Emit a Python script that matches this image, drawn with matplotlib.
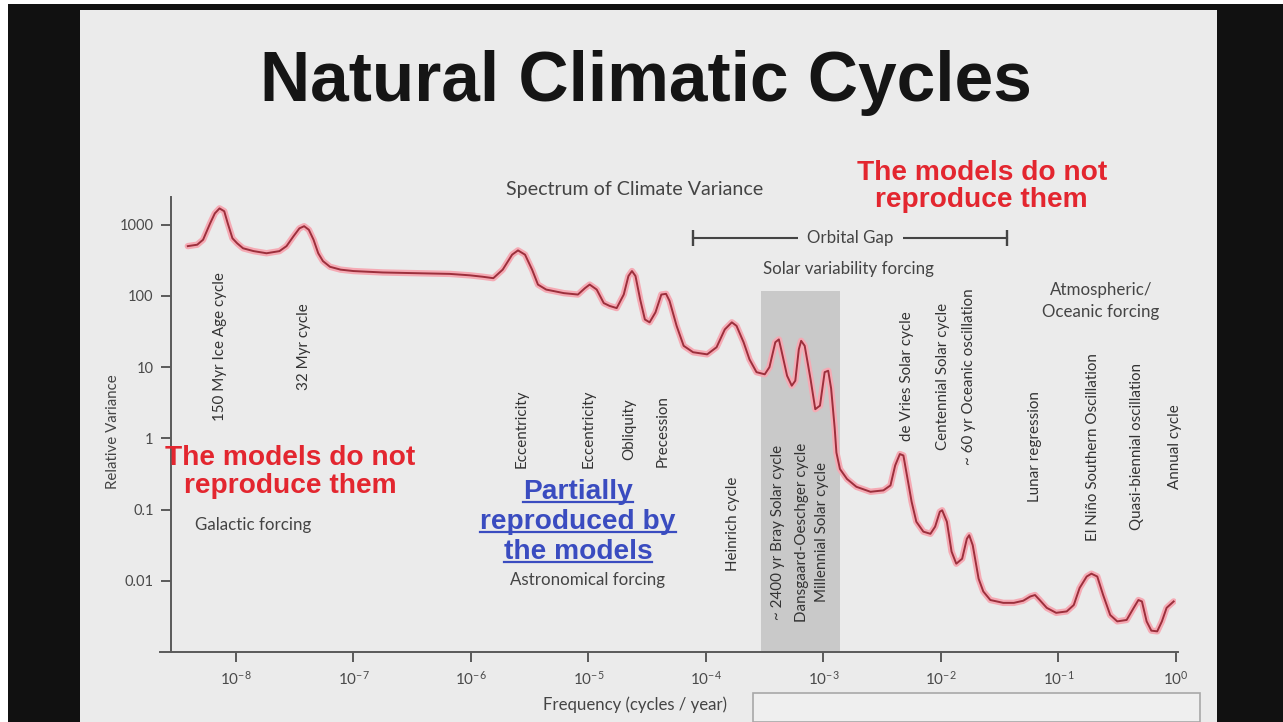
import numpy as np
import matplotlib
matplotlib.use("Agg")
import matplotlib.pyplot as plt
from matplotlib.patches import Rectangle
from matplotlib.lines import Line2D
from matplotlib.ticker import NullLocator

plt.rcParams['mathtext.fontset'] = 'custom'
plt.rcParams['mathtext.rm'] = 'Lato'
plt.rcParams['mathtext.it'] = 'Lato:italic'
plt.rcParams['mathtext.bf'] = 'Lato:bold'

# ---------------- data ----------------
# spectrum: log10 frequency (cycles/year) and log10 relative variance
log_freq = np.array([
    -8.41, -8.33, -8.28, -8.22, -8.18, -8.14, -8.10, -8.07, -8.03, -7.99,
    -7.94, -7.85, -7.74, -7.63, -7.57, -7.51, -7.46, -7.42, -7.38, -7.34,
    -7.30, -7.26, -7.20, -7.11, -7.00, -6.75, -6.46, -6.18, -6.01, -5.90,
    -5.81, -5.73, -5.65, -5.60, -5.54, -5.48, -5.43, -5.36, -5.21, -5.09,
    -5.03, -4.99, -4.93, -4.87, -4.82, -4.76, -4.70, -4.66, -4.63, -4.60,
    -4.56, -4.52, -4.48, -4.43, -4.38, -4.34, -4.31, -4.25, -4.19, -4.11,
    -3.99, -3.91, -3.84, -3.78, -3.74, -3.68, -3.63, -3.57, -3.50, -3.46,
    -3.41, -3.38, -3.36, -3.31, -3.27, -3.24, -3.21, -3.19, -3.16, -3.11,
    -3.07, -3.03, -2.99, -2.96, -2.935, -2.905, -2.89, -2.86, -2.80, -2.72,
    -2.60, -2.49, -2.43, -2.39, -2.35, -2.32, -2.29, -2.25, -2.21, -2.15,
    -2.09, -2.05, -2.01, -1.99, -1.95, -1.91, -1.87, -1.82, -1.78, -1.76,
    -1.73, -1.68, -1.64, -1.58, -1.47, -1.38, -1.30, -1.24, -1.20, -1.16,
    -1.10, -1.02, -0.93, -0.87, -0.82, -0.76, -0.72, -0.67, -0.62, -0.56,
    -0.50, -0.42, -0.36, -0.32, -0.29, -0.25, -0.21, -0.16, -0.12, -0.08,
    -0.02])
log_var = np.array([
    2.70, 2.72, 2.79, 3.02, 3.16, 3.23, 3.19, 3.02, 2.81, 2.74,
    2.67, 2.63, 2.60, 2.63, 2.70, 2.84, 2.95, 2.98, 2.93, 2.79,
    2.60, 2.49, 2.41, 2.37, 2.35, 2.33, 2.32, 2.31, 2.29, 2.27,
    2.25, 2.37, 2.58, 2.64, 2.58, 2.37, 2.16, 2.09, 2.04, 2.02,
    2.11, 2.16, 2.09, 1.90, 1.86, 1.83, 2.02, 2.28, 2.35, 2.28,
    1.95, 1.67, 1.63, 1.77, 2.02, 2.03, 1.93, 1.58, 1.30, 1.21,
    1.18, 1.28, 1.53, 1.63, 1.58, 1.35, 1.11, 0.93, 0.90, 1.00,
    1.35, 1.39, 1.25, 0.88, 0.74, 0.81, 1.25, 1.37, 1.30, 0.83,
    0.41, 0.46, 0.93, 0.95, 0.70, 0.15, -0.20, -0.43, -0.57, -0.68,
    -0.75, -0.73, -0.66, -0.38, -0.22, -0.24, -0.52, -0.89, -1.17, -1.31,
    -1.34, -1.24, -1.03, -1.01, -1.17, -1.59, -1.76, -1.69, -1.41, -1.36,
    -1.50, -1.97, -2.15, -2.27, -2.31, -2.31, -2.28, -2.22, -2.20, -2.27,
    -2.38, -2.45, -2.43, -2.34, -2.10, -1.94, -1.90, -1.94, -2.20, -2.48,
    -2.57, -2.55, -2.38, -2.27, -2.29, -2.57, -2.70, -2.71, -2.57, -2.38,
    -2.29])
freq = 10.0 ** log_freq
variance = 10.0 ** log_var

solar_band_freq = [2.94e-4, 1.37e-3]
solar_band_top = 117.0

orbital_gap_freq = [7.7e-5, 3.65e-2]
orbital_gap_level = 660.0
orbital_gap_text_freq = 1.7e-3

x_ticks = [1e-8, 1e-7, 1e-6, 1e-5, 1e-4, 1e-3, 1e-2, 1e-1, 1e0]
x_tick_labels = [r'$10^{-8}$', r'$10^{-7}$', r'$10^{-6}$', r'$10^{-5}$', r'$10^{-4}$',
                 r'$10^{-3}$', r'$10^{-2}$', r'$10^{-1}$', r'$10^{0}$']
y_ticks = [0.01, 0.1, 1, 10, 100, 1000]
y_tick_labels = ['0.01', '0.1', '1', '10', '100', '1000']

# cycle labels: text, frequency, vertical centre (variance units)
cycle_labels = ['150 Myr Ice Age cycle', '32 Myr cycle',
                'Eccentricity', 'Eccentricity', 'Obliquity', 'Precession',
                'Heinrich cycle',
                '~ 2400 yr Bray Solar cycle', 'Dansgaard-Oeschger cycle', 'Millennial Solar cycle',
                'de Vries Solar cycle', 'Centennial Solar cycle', '~ 60 yr Oceanic oscillation',
                'Lunar regression', 'El Niño Southern Oscillation', 'Quasi-biennial oscillation',
                'Annual cycle']
cycle_freq_log = [-8.14, -7.42, -5.57, -5.00, -4.65, -4.37, -3.77, -3.39, -3.18, -3.01,
                  -2.29, -1.98, -1.76, -1.20, -0.71, -0.33, -0.01]
cycle_ypos_log = [1.29, 1.29, 0.13, 0.13, 0.13, 0.10, -1.20, -1.32, -1.32, -1.32,
                  0.87, 0.87, 0.87, -0.12, -0.12, -0.12, -0.12]

forcing_labels = ['Galactic forcing', 'Astronomical forcing', 'Solar variability forcing',
                  'Atmospheric/\nOceanic forcing']
forcing_freq_log = [-7.85, -5.01, -2.79, -0.64]
forcing_ypos_log = [-1.22, -1.99, 2.38, 1.93]

# ---------------- figure ----------------
W, H = 1283, 722
fig = plt.figure(figsize=(W / 100, H / 100), dpi=100, facecolor='white')


def fx(x):
    return x / W


def fy(y):
    return 1 - y / H


# screen frame and slide
fig.add_artist(Rectangle((fx(8), 0), 1 - fx(8), fy(4), transform=fig.transFigure,
                         facecolor='#111111', edgecolor='none', zorder=-10))
fig.add_artist(Rectangle((fx(80), 0), (1217 - 80) / W, fy(10), transform=fig.transFigure,
                         facecolor='#ebebeb', edgecolor='none', zorder=-9))
fig.add_artist(Rectangle((fx(753), 0), (1200 - 753) / W, fy(693), transform=fig.transFigure,
                         facecolor='#efefef', edgecolor='#a8a8a8', lw=1.2, zorder=-8))

ax = fig.add_axes([fx(171), fy(652), (1176 - 171) / W, (652 - 197) / H])
ax.patch.set_alpha(0)
ax.set_xscale('log')
ax.set_yscale('log')
ax.set_xlim(10 ** -8.553, 1.0)
ax.set_ylim(1e-3, 10 ** 3.39)

axis_col = '#5a5a5a'
for s in ['top', 'right', 'bottom']:
    ax.spines[s].set_visible(False)
ax.spines['left'].set_color(axis_col)
ax.spines['left'].set_linewidth(1.4)
ax.add_line(Line2D([-11 / 1005, 1.002], [0, 0], transform=ax.transAxes, color=axis_col,
                   lw=1.4, clip_on=False))

ax.set_xticks(x_ticks)
ax.set_xticklabels(x_tick_labels)
ax.set_yticks(y_ticks)
ax.set_yticklabels(y_tick_labels)
ax.xaxis.set_minor_locator(NullLocator())
ax.yaxis.set_minor_locator(NullLocator())
ax.tick_params(direction='out', length=7.5, width=1.4, color=axis_col,
               labelcolor='#4a4a4a', pad=5)
for lab in ax.get_yticklabels():
    lab.set_family('Lato')
    lab.set_fontsize(10.5)
for lab in ax.get_xticklabels():
    lab.set_fontsize(11)

# solar band
ax.fill_between(solar_band_freq, 1e-3, solar_band_top, color='#c9c9c9', lw=0, zorder=0.5)

# spectrum curve
ax.plot(freq, variance, color='#f5aab4', lw=4.6, solid_joinstyle='round',
        solid_capstyle='round', zorder=3)
ax.plot(freq, variance, color='#9c2f3c', lw=1.4, solid_joinstyle='round', zorder=4)

# orbital gap
ax.plot(orbital_gap_freq, [orbital_gap_level] * 2, color='#444444', lw=1.5, clip_on=False)
ax.plot(orbital_gap_freq, [orbital_gap_level] * 2, ls='none', marker='|', ms=12, mew=1.7,
        color='#444444', clip_on=False)

renderer = fig.canvas.get_renderer()


def fit(t, target, vertical=False):
    bb = t.get_window_extent(renderer)
    cur = bb.height if vertical else bb.width
    t.set_fontsize(t.get_fontsize() * target / cur)
    return t.get_fontsize()


small_font = 'Lato'
probe = ax.text(10 ** forcing_freq_log[2], 10 ** forcing_ypos_log[2], forcing_labels[2],
                ha='center', va='center', fontsize=10, family=small_font, color='#444444')
small_fs = fit(probe, 170)

for txt, lf, ly in zip(forcing_labels, forcing_freq_log, forcing_ypos_log):
    if txt == forcing_labels[2]:
        continue
    ax.text(10 ** lf, 10 ** ly, txt, ha='center', va='center', fontsize=small_fs,
            family=small_font, color='#444444', linespacing=1.45)

ax.text(orbital_gap_text_freq, orbital_gap_level, 'Orbital Gap', ha='center', va='center',
        fontsize=small_fs, family=small_font, color='#444444',
        bbox=dict(boxstyle='square,pad=0.55', fc='#ebebeb', ec='none'))

probe2 = ax.text(10 ** cycle_freq_log[0], 10 ** cycle_ypos_log[0], cycle_labels[0],
                 rotation=90, ha='center', va='center', fontsize=small_fs,
                 family=small_font, color='#333333', zorder=5)
rot_fs = fit(probe2, 149, vertical=True)
for txt, lf, ly in zip(cycle_labels[1:], cycle_freq_log[1:], cycle_ypos_log[1:]):
    ax.text(10 ** lf, 10 ** ly, txt, rotation=90, ha='center', va='center',
            fontsize=rot_fs, family=small_font, color='#333333', zorder=5)

t = fig.text(fx(635), fy(190), 'Spectrum of Climate Variance', ha='center', va='center',
             fontsize=11, family=small_font, color='#444444')
fit(t, 256)

t = fig.text(fx(635), fy(705), 'Frequency (cycles / year)', ha='center', va='center',
             fontsize=10, family=small_font, color='#444444')
fit(t, 184)

t = fig.text(fx(113), fy(432), 'Relative Variance', ha='center', va='center', rotation=90,
             fontsize=9, family=small_font, color='#444444')
fit(t, 115, vertical=True)

# title
t = fig.text(fx(646), fy(101), 'Natural Climatic Cycles', ha='center', va='baseline',
             fontsize=48, fontweight='bold', family='Liberation Sans', color='#151515')
fit(t, 772)

# red overlays
red = '#e3262f'
t1 = fig.text(fx(982), fy(180), 'The models do not', ha='center', va='baseline',
              fontsize=20, fontweight='bold', family='Liberation Sans', color=red)
red_fs = fit(t1, 250)
fig.text(fx(981), fy(207), 'reproduce them', ha='center', va='baseline',
         fontsize=red_fs, fontweight='bold', family='Liberation Sans', color=red)
fig.text(fx(290), fy(465), 'The models do not', ha='center', va='baseline',
         fontsize=red_fs, fontweight='bold', family='Liberation Sans', color=red)
fig.text(fx(290), fy(493), 'reproduce them', ha='center', va='baseline',
         fontsize=red_fs, fontweight='bold', family='Liberation Sans', color=red)

# blue overlay with underlines
blue = '#3a4cc0'
blue_lines = ['Partially', 'reproduced by', 'the models']
blue_base = [499, 529, 559]
for txt, yb in zip(blue_lines, blue_base):
    tb = fig.text(fx(578), fy(yb), txt, ha='center', va='baseline', fontsize=red_fs,
                  fontweight='bold', family='Liberation Sans', color=blue)
    bb = tb.get_window_extent(renderer)
    fig.add_artist(Line2D([bb.x0 / W, bb.x1 / W], [fy(yb + 3)] * 2, transform=fig.transFigure,
                          color=blue, lw=1.6))

fig.savefig('out.png', dpi=100, facecolor=fig.get_facecolor())
